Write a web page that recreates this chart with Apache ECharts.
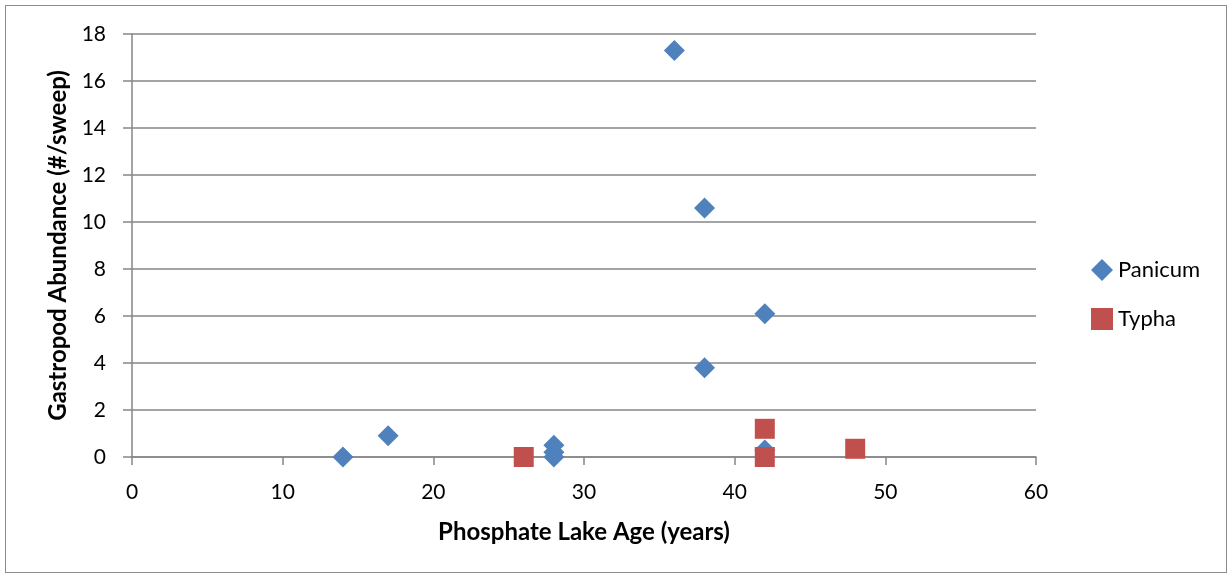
<!DOCTYPE html>
<html>
<head>
<meta charset="utf-8">
<script src="https://cdn.jsdelivr.net/npm/echarts@6/dist/echarts.min.js"></script>
<style>
  html, body { margin: 0; padding: 0; background: #fff; }
  #frame {
    position: absolute; left: 5px; top: 5px; width: 1222px; height: 568px;
    border: 1.5px solid #8c8c8c; box-sizing: border-box;
  }
  #chart { position: absolute; left: 0; top: 0; width: 1232px; height: 578px; }
</style>
</head>
<body>
<div id="frame"></div>
<div id="chart"></div>
<script>
// lake age (years) vs gastropod abundance (#/sweep)
const panicumAge = [14, 17, 28, 28, 28, 36, 38, 38, 42, 42];
const panicumAbund = [0, 0.9, 0.5, 0.2, 0, 17.3, 10.6, 3.8, 6.1, 0.3];
const typhaAge = [26, 42, 42, 48];
const typhaAbund = [0, 1.2, 0, 0.35];

const font = 'Lato, "Open Sans", sans-serif';
const gray = '#868686';

let chart = echarts.init(document.getElementById('chart'));

let zip = (xs, ys) => xs.map((x, i) => [x, ys[i]]);

let option = {
  animation: false,
  grid: { left: 132, right: 196, top: 34, bottom: 121 },
  legend: {
    orient: 'vertical',
    left: 1086,
    top: 254,
    itemGap: 27,
    itemWidth: 22,
    itemHeight: 22,
    textStyle: { fontFamily: font, fontSize: 22, color: '#000' },
    data: ['Panicum', 'Typha']
  },
  xAxis: {
    type: 'value',
    min: 0, max: 60, interval: 10,
    name: 'Phosphate Lake Age (years)',
    nameLocation: 'middle',
    nameGap: 63,
    nameTextStyle: { fontFamily: font, fontSize: 24, fontWeight: 'bold', color: '#000' },
    axisLine: { show: true, onZero: false, lineStyle: { color: gray, width: 1.5 } },
    axisTick: { show: true, length: 8, lineStyle: { color: gray, width: 1.5 } },
    axisLabel: { fontFamily: font, fontSize: 21, color: '#000', margin: 25 },
    splitLine: { show: false }
  },
  yAxis: {
    type: 'value',
    min: 0, max: 18, interval: 2,
    name: 'Gastropod Abundance (#/sweep)',
    nameLocation: 'middle',
    nameGap: 62,
    nameTextStyle: { fontFamily: font, fontSize: 24, fontWeight: 'bold', color: '#000' },
    axisLine: { show: true, lineStyle: { color: gray, width: 1.5 } },
    axisTick: { show: true, length: 9, lineStyle: { color: gray, width: 1.5 } },
    axisLabel: { fontFamily: font, fontSize: 21, color: '#000', margin: 26 },
    splitLine: { show: true, lineStyle: { color: gray, width: 1.5 } }
  },
  series: [
    {
      name: 'Panicum',
      type: 'scatter',
      symbol: 'diamond',
      symbolSize: [21, 21],
      itemStyle: { color: '#4F81BD', opacity: 1 },
      data: zip(panicumAge, panicumAbund),
      z: 2
    },
    {
      name: 'Typha',
      type: 'scatter',
      symbol: 'rect',
      symbolSize: 20,
      itemStyle: { color: '#C0504D', opacity: 1 },
      data: zip(typhaAge, typhaAbund),
      z: 3
    }
  ]
};

chart.setOption(option);
</script>
</body>
</html>
